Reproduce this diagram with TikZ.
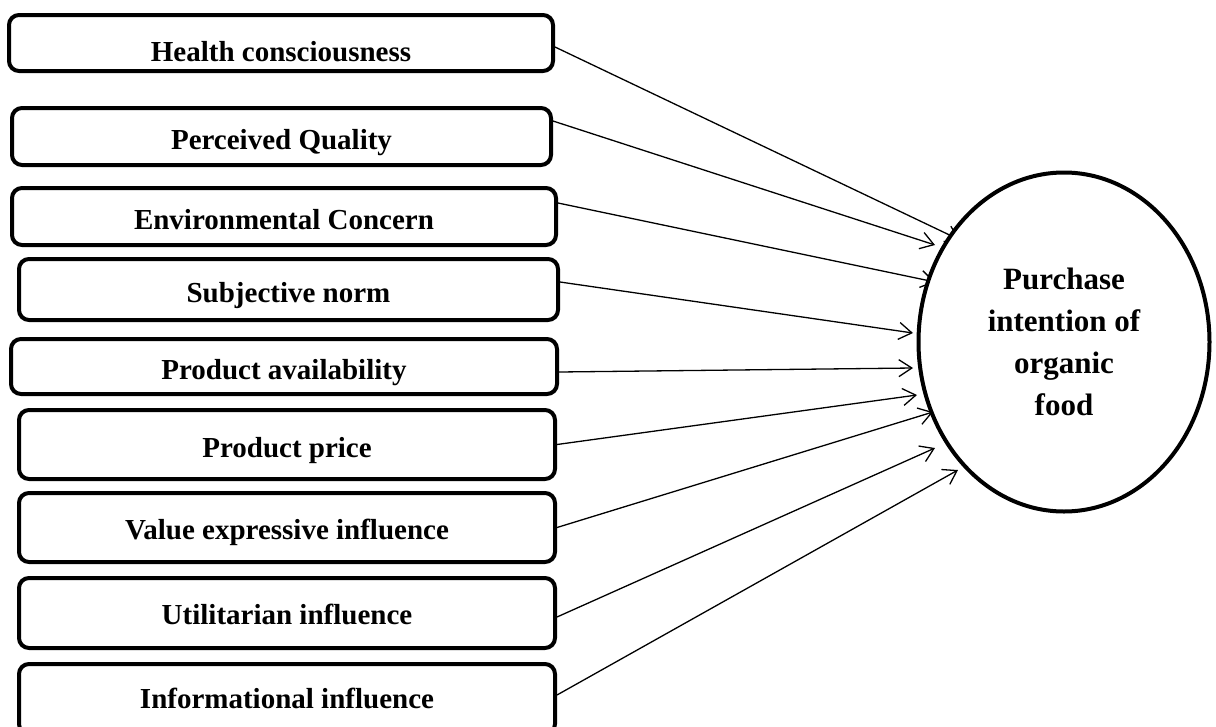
\documentclass[tikz,border=0pt]{standalone}
\usepackage{fontspec}
\setmainfont{Liberation Serif}
\usetikzlibrary{arrows.meta,shapes.geometric}
\begin{document}
\begin{tikzpicture}[x=1pt,y=-1pt,
  box/.style={draw=black,line width=4pt,rounded corners=10pt,fill=white,
    font=\fontsize{29}{34}\selectfont\bfseries,text height=31pt,text depth=6pt,inner sep=0pt},
  conn/.style={line width=1.3pt,-{Straight Barb[length=13pt,width=17pt,line width=1.3pt]}},
  target/.style={draw=black,ellipse,line width=4pt,fill=white,inner sep=0pt,
    minimum width=291pt,minimum height=339pt,align=center,
    font=\fontsize{31}{42}\selectfont\bfseries}]
\useasboundingbox (0,0) rectangle (1216,726);
% boxes: center x, center y, width, height (centerline)
\node[box,minimum width=544pt,minimum height=56pt,text height=43pt] (b1) at (281,43) {Health consciousness};
\node[box,minimum width=539pt,minimum height=57pt] (b2) at (281.5,136.5) {Perceived Quality};
\node[box,minimum width=544pt,minimum height=57pt] (b3) at (284,216.5) {Environmental Concern};
\node[box,minimum width=539pt,minimum height=61pt] (b4) at (288.5,289.5) {Subjective norm};
\node[box,minimum width=546pt,minimum height=55pt] (b5) at (284,366.5) {Product availability};
\node[box,minimum width=536pt,minimum height=69pt] (b6) at (287,444.5) {Product price};
\node[box,minimum width=536pt,minimum height=69pt,text height=29pt] (b7) at (287,527.5) {Value expressive influence};
\node[box,minimum width=536pt,minimum height=70pt,text height=29pt] (b8) at (287,613) {Utilitarian influence};
\node[box,minimum width=536pt,minimum height=70pt,text height=25pt] (b9) at (287,699) {Informational influence};
% arrow tips
\coordinate (t1) at (960,240);
\coordinate (t2) at (935,245);
\coordinate (t3) at (935,282);
\coordinate (t4) at (913,333);
\coordinate (t5) at (913,368);
\coordinate (t6) at (917,395);
\coordinate (t7) at (933,412);
\coordinate (t8) at (935,448);
\coordinate (t9) at (958,470);
\draw[conn] ([yshift=-4pt]b1.east) -- (t1);
\draw[conn] ([yshift=15.5pt]b2.east) -- (t2);
\draw[conn] ([yshift=13.5pt]b3.east) -- (t3);
\draw[conn] ([yshift=7.5pt]b4.east) -- (t4);
\draw[conn] ([yshift=-5.5pt]b5.east) -- (t5);
\draw[conn] (b6.east) -- (t6);
\draw[conn] (b7.east) -- (t7);
\draw[conn] ([yshift=-4pt]b8.east) -- (t8);
\draw[conn] ([yshift=4pt]b9.east) -- (t9);
\node[target] (p) at (1064,342) {Purchase\\intention of\\organic\\food};
\end{tikzpicture}
\end{document}
